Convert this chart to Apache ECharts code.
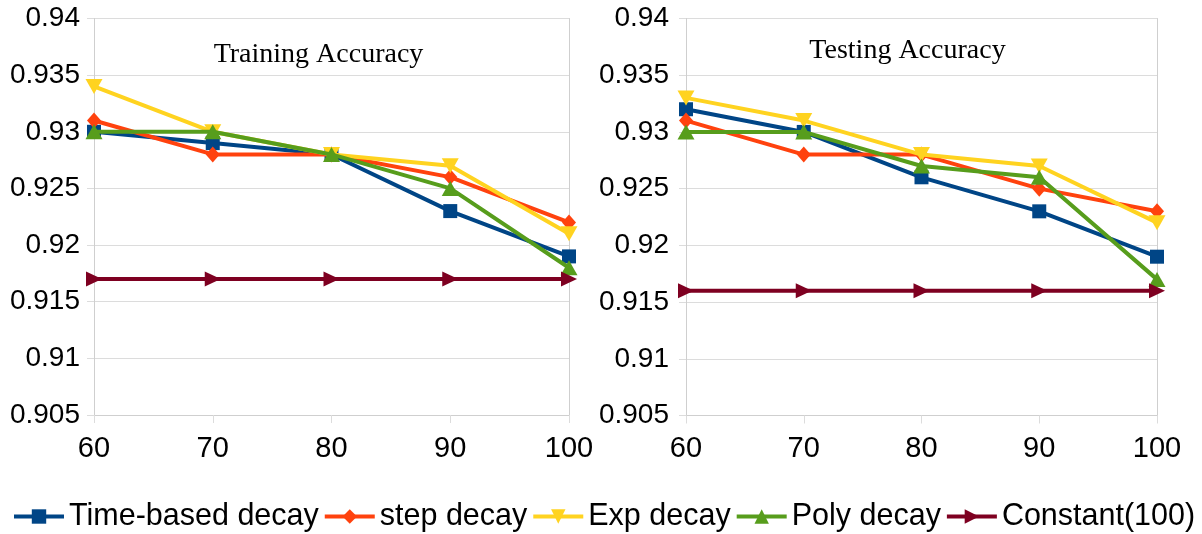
<!DOCTYPE html>
<html>
<head>
<meta charset="utf-8">
<script src="https://cdn.jsdelivr.net/npm/echarts@6/dist/echarts.min.js"></script>
<style>
html,body{margin:0;padding:0;background:#fff;}
#c{width:1202px;height:534px;}
</style>
</head>
<body>
<div id="c"></div>
<script>
const xValues = [60, 70, 80, 90, 100];
const seriesNames = ['Time-based decay', 'step decay', 'Exp decay', 'Poly decay', 'Constant(100)'];
const titles = ['Training Accuracy', 'Testing Accuracy'];
const yTicks = [0.905, 0.91, 0.915, 0.92, 0.925, 0.93, 0.935, 0.94];

// Training
const trainTimeBased = [0.930, 0.929, 0.928, 0.923, 0.919];
const trainStep      = [0.931, 0.928, 0.928, 0.926, 0.922];
const trainExp       = [0.934, 0.930, 0.928, 0.927, 0.921];
const trainPoly      = [0.930, 0.930, 0.928, 0.925, 0.918];
const trainConstant  = [0.917, 0.917, 0.917, 0.917, 0.917];

// Testing
const testTimeBased = [0.932, 0.930, 0.926, 0.923, 0.919];
const testStep      = [0.931, 0.928, 0.928, 0.925, 0.923];
const testExp       = [0.933, 0.931, 0.928, 0.927, 0.922];
const testPoly      = [0.930, 0.930, 0.927, 0.926, 0.917];
const testConstant  = [0.916, 0.916, 0.916, 0.916, 0.916];

const colors = ['#004586', '#ff420e', '#ffd320', '#579d1c', '#7e0021'];
const symbols = [
  {symbol: 'rect', size: 14, rotate: 0},
  {symbol: 'diamond', size: [14, 16], rotate: 0},
  {symbol: 'triangle', size: [17, 15], rotate: 180},
  {symbol: 'triangle', size: [17, 15], rotate: 0},
  {symbol: 'triangle', size: [15, 16], rotate: -90}
];

const trainSets = [trainTimeBased, trainStep, trainExp, trainPoly, trainConstant];
const testSets = [testTimeBased, testStep, testExp, testPoly, testConstant];

const gridColor = '#dcdcdc';
const axisColor = '#cfcfcf';
const fontSans = 'Liberation Sans, Arial, sans-serif';

function yAxisMain(gridIndex, margin) {
  return {
    type: 'value', gridIndex: gridIndex,
    min: yTicks[0], max: yTicks[yTicks.length - 1], interval: 0.005,
    axisLine: {show: true, lineStyle: {color: axisColor, width: 1}},
    axisTick: {show: true, length: 7, lineStyle: {color: gridColor}},
    splitLine: {show: true, lineStyle: {color: gridColor, width: 1}},
    axisLabel: {
      margin: margin, fontSize: 28, color: '#000', fontFamily: fontSans,
      padding: [9, 0, 0, 0],
      formatter: v => String(+v.toFixed(3))
    }
  };
}
function yAxisRight(gridIndex) {
  return {
    type: 'value', gridIndex: gridIndex, position: 'right',
    min: yTicks[0], max: yTicks[yTicks.length - 1], interval: 0.005,
    axisLine: {show: true, lineStyle: {color: axisColor, width: 1}},
    axisTick: {show: false}, splitLine: {show: false}, axisLabel: {show: false}
  };
}
function xAxis(gridIndex) {
  return {
    type: 'value', gridIndex: gridIndex,
    min: xValues[0], max: xValues[xValues.length - 1], interval: 10,
    axisLine: {show: true, lineStyle: {color: axisColor, width: 1}},
    axisTick: {show: true, length: 8, lineStyle: {color: gridColor}},
    splitLine: {show: false},
    axisLabel: {margin: 19, fontSize: 29, color: '#000', fontFamily: fontSans}
  };
}

const series = [];
[trainSets, testSets].forEach((sets, gi) => {
  sets.forEach((vals, i) => {
    series.push({
      name: seriesNames[i], type: 'line',
      xAxisIndex: gi, yAxisIndex: gi * 2,
      data: xValues.map((x, k) => [x, vals[k]]),
      symbol: symbols[i].symbol, symbolSize: symbols[i].size, symbolRotate: symbols[i].rotate,
      showAllSymbol: true,
      itemStyle: {color: colors[i]},
      lineStyle: {color: colors[i], width: 4},
      z: 2 + i,
      animation: false
    });
  });
});

const chart = echarts.init(document.getElementById('c'), null, {renderer: 'canvas'});
chart.setOption({
  animation: false,
  backgroundColor: '#fff',
  grid: [
    {left: 94, top: 18.5, width: 475, height: 396.5},
    {left: 686, top: 18.5, width: 471, height: 397}
  ],
  xAxis: [xAxis(0), xAxis(1)],
  yAxis: [yAxisMain(0, 14), yAxisRight(0), yAxisMain(1, 17), yAxisRight(1)],
  legend: {
    data: seriesNames,
    left: 12, top: 501, padding: 0,
    itemWidth: 50, itemHeight: 18, itemGap: 4,
    lineStyle: {width: 4},
    textStyle: {fontSize: 30.5, color: '#000', fontFamily: fontSans}
  },
  graphic: [
    {type: 'text', x: 318.5, y: 55, style: {text: titles[0], font: '28px "Liberation Serif", "Times New Roman", serif', fill: '#000', textAlign: 'center', textVerticalAlign: 'middle'}},
    {type: 'text', x: 907.5, y: 51, style: {text: titles[1], font: '28px "Liberation Serif", "Times New Roman", serif', fill: '#000', textAlign: 'center', textVerticalAlign: 'middle'}}
  ],
  series: series
});
</script>
</body>
</html>
